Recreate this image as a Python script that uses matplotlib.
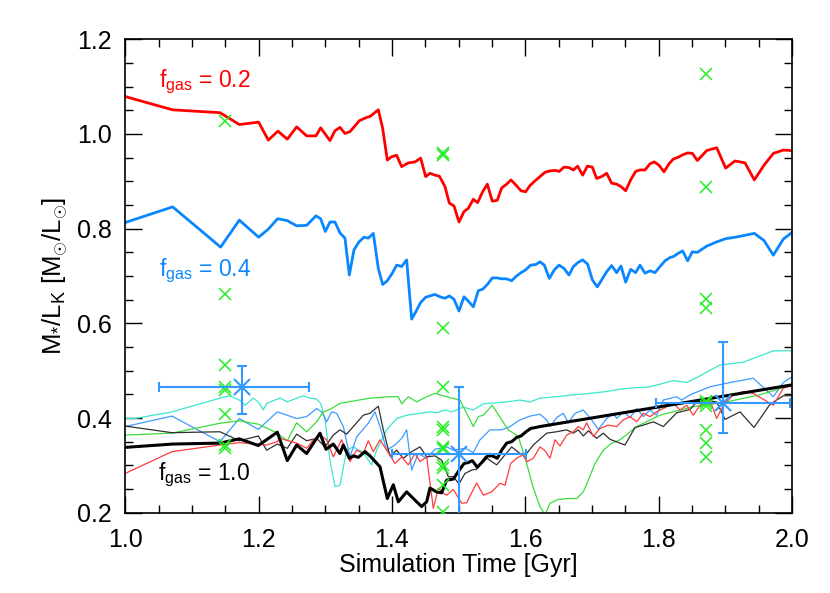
import matplotlib
matplotlib.use("Agg")
import matplotlib.pyplot as plt
from matplotlib.ticker import MultipleLocator, FormatStrFormatter

plt.rcParams['font.family'] = ['Liberation Sans', 'DejaVu Sans']
plt.rcParams['mathtext.fontset'] = 'custom'
plt.rcParams['mathtext.rm'] = 'Liberation Sans'
plt.rcParams['mathtext.it'] = 'Liberation Sans:italic'
plt.rcParams['mathtext.bf'] = 'Liberation Sans:bold'

# ---------------- data ----------------
red_t = [1.000, 1.071, 1.142, 1.171, 1.200, 1.2145, 1.229, 1.243, 1.257, 1.272,
         1.286, 1.293, 1.307, 1.3145, 1.322, 1.3295, 1.337, 1.351, 1.362, 1.367,
         1.3795, 1.386, 1.393, 1.3995, 1.407, 1.4145, 1.4245, 1.4345, 1.443, 1.4505,
         1.457, 1.4645, 1.471, 1.4795, 1.486, 1.493, 1.5005, 1.508, 1.5145, 1.522,
         1.5285, 1.536, 1.543, 1.5505, 1.558, 1.5645, 1.572, 1.5785, 1.586, 1.5935,
         1.6005, 1.607, 1.6145, 1.622, 1.6295, 1.637, 1.6445, 1.651, 1.658, 1.6655,
         1.672, 1.6785, 1.686, 1.693, 1.7005, 1.707, 1.7145, 1.722, 1.7295, 1.737,
         1.7435, 1.7505, 1.758, 1.7655, 1.772, 1.7795, 1.787, 1.7935, 1.8005, 1.808,
         1.8155, 1.822, 1.8295, 1.836, 1.8435, 1.8505, 1.858, 1.8655, 1.872, 1.8795,
         1.887, 1.9005, 1.9145, 1.9295, 1.9435, 1.958, 1.972, 1.987, 2.000]
red_v = [1.079, 1.051, 1.045, 1.020, 1.025, 0.987, 1.006, 0.989, 1.015, 0.996,
         0.996, 1.013, 0.986, 1.007, 1.014, 1.001, 1.005, 1.028, 1.035, 1.037,
         1.051, 1.012, 0.945, 0.952, 0.955, 0.931, 0.939, 0.941, 0.949, 0.910,
         0.917, 0.913, 0.911, 0.889, 0.854, 0.848, 0.814, 0.836, 0.843, 0.862,
         0.855, 0.878, 0.894, 0.858, 0.860, 0.886, 0.894, 0.903, 0.892, 0.880,
         0.878, 0.891, 0.901, 0.910, 0.919, 0.922, 0.923, 0.921, 0.930, 0.929,
         0.924, 0.932, 0.913, 0.932, 0.930, 0.906, 0.910, 0.917, 0.896, 0.894,
         0.889, 0.880, 0.903, 0.921, 0.924, 0.924, 0.937, 0.941, 0.934, 0.920,
         0.937, 0.947, 0.951, 0.956, 0.960, 0.959, 0.944, 0.955, 0.965, 0.968,
         0.971, 0.928, 0.943, 0.939, 0.903, 0.934, 0.959, 0.966, 0.965]

blue_t = [1.000, 1.071, 1.143, 1.171, 1.200, 1.2145, 1.2285, 1.243, 1.257, 1.272,
          1.286, 1.293, 1.300, 1.307, 1.3145, 1.322, 1.3295, 1.336, 1.343, 1.3505,
          1.358, 1.3645, 1.372, 1.3795, 1.386, 1.393, 1.4005, 1.407, 1.4145, 1.422,
          1.4295, 1.436, 1.443, 1.4505, 1.457, 1.4645, 1.472, 1.4795, 1.486, 1.493,
          1.5005, 1.508, 1.5145, 1.522, 1.5295, 1.536, 1.543, 1.5505, 1.558, 1.5645,
          1.572, 1.5795, 1.586, 1.5935, 1.6005, 1.608, 1.6155, 1.622, 1.6285, 1.636,
          1.6435, 1.6505, 1.658, 1.6655, 1.672, 1.6795, 1.686, 1.6935, 1.7005, 1.708,
          1.7155, 1.722, 1.7295, 1.737, 1.7435, 1.7505, 1.758, 1.7655, 1.772, 1.7795,
          1.787, 1.7945, 1.802, 1.8095, 1.817, 1.822, 1.8295, 1.836, 1.8435, 1.8505,
          1.858, 1.872, 1.887, 1.901, 1.9155, 1.9295, 1.9435, 1.958, 1.972, 1.987,
          2.000]
blue_v = [0.813, 0.846, 0.761, 0.818, 0.782, 0.799, 0.821, 0.817, 0.806, 0.807,
          0.827, 0.821, 0.794, 0.814, 0.814, 0.791, 0.780, 0.702, 0.755, 0.772,
          0.782, 0.780, 0.790, 0.716, 0.682, 0.690, 0.706, 0.723, 0.720, 0.734,
          0.609, 0.625, 0.644, 0.655, 0.658, 0.661, 0.656, 0.653, 0.658, 0.651,
          0.626, 0.656, 0.647, 0.635, 0.669, 0.672, 0.682, 0.696, 0.696, 0.694,
          0.694, 0.690, 0.699, 0.707, 0.713, 0.723, 0.724, 0.730, 0.723, 0.695,
          0.713, 0.723, 0.716, 0.702, 0.720, 0.729, 0.734, 0.725, 0.692, 0.677,
          0.694, 0.709, 0.722, 0.707, 0.721, 0.687, 0.714, 0.707, 0.723, 0.706,
          0.711, 0.707, 0.720, 0.732, 0.739, 0.741, 0.748, 0.753, 0.732, 0.751,
          0.750, 0.763, 0.772, 0.779, 0.782, 0.786, 0.790, 0.775, 0.744, 0.778,
          0.792]

black_t = [1.000, 1.071, 1.142, 1.171, 1.1995, 1.228, 1.243, 1.257, 1.272, 1.292,
           1.301, 1.312, 1.322, 1.327, 1.336, 1.342, 1.3495, 1.3595, 1.367, 1.382,
           1.393, 1.402, 1.4095, 1.422, 1.437, 1.4445, 1.452, 1.457, 1.467, 1.4745,
           1.482, 1.492, 1.4995, 1.508, 1.5145, 1.5205, 1.528, 1.536, 1.5435, 1.5505,
           1.558, 1.5645, 1.572, 1.5795, 1.587, 1.5935, 1.601, 1.608, 1.6155, 1.622,
           2.000]
black_v = [0.338, 0.345, 0.347, 0.356, 0.342, 0.370, 0.310, 0.343, 0.325, 0.368,
           0.334, 0.345, 0.325, 0.343, 0.315, 0.320, 0.317, 0.329, 0.320, 0.297,
           0.230, 0.259, 0.223, 0.244, 0.223, 0.213, 0.223, 0.252, 0.244, 0.242,
           0.269, 0.271, 0.287, 0.304, 0.306, 0.310, 0.296, 0.308, 0.320, 0.320,
           0.315, 0.332, 0.347, 0.350, 0.359, 0.362, 0.371, 0.378, 0.380, 0.382,
           0.470]

cyan_t = [1.000, 1.0145, 1.070, 1.142, 1.157, 1.171, 1.1795, 1.192, 1.1995, 1.207,
          1.212, 1.232, 1.243, 1.257, 1.267, 1.277, 1.287, 1.293, 1.2995, 1.307,
          1.3145, 1.322, 1.332, 1.342, 1.357, 1.3695, 1.377, 1.392, 1.407, 1.422,
          1.442, 1.457, 1.467, 1.4795, 1.4895, 1.507, 1.522, 1.537, 1.572, 1.592,
          1.607, 1.622, 1.647, 1.672, 1.697, 1.722, 1.742, 1.757, 1.787, 1.822,
          1.842, 1.862, 1.892, 1.927, 1.972, 2.000]
cyan_v = [0.399, 0.399, 0.413, 0.442, 0.447, 0.438, 0.427, 0.442, 0.434, 0.417,
          0.431, 0.442, 0.434, 0.442, 0.447, 0.442, 0.440, 0.431, 0.399, 0.311,
          0.255, 0.258, 0.332, 0.339, 0.327, 0.301, 0.332, 0.375, 0.399, 0.406,
          0.410, 0.413, 0.411, 0.417, 0.413, 0.423, 0.417, 0.430, 0.434, 0.438,
          0.434, 0.442, 0.445, 0.449, 0.452, 0.456, 0.461, 0.463, 0.466, 0.479,
          0.475, 0.489, 0.512, 0.518, 0.542, 0.542]

lblue_t = [1.000, 1.070, 1.142, 1.171, 1.1995, 1.228, 1.257, 1.272, 1.287, 1.2945,
           1.302, 1.3095, 1.317, 1.327, 1.337, 1.347, 1.3645, 1.3745, 1.382, 1.392,
           1.4045, 1.4145, 1.422, 1.4295, 1.4395, 1.452, 1.4645, 1.482, 1.492, 1.5095,
           1.522, 1.532, 1.547, 1.5645, 1.577, 1.592, 1.607, 1.622, 1.632, 1.637,
           1.647, 1.657, 1.6645, 1.6745, 1.687, 1.6995, 1.7095, 1.722, 1.732, 1.737,
           1.747, 1.757, 1.767, 1.777, 1.787, 1.797, 1.807, 1.827, 1.8345, 1.847,
           1.877, 1.907, 1.942, 1.972, 1.987, 2.000]
lblue_v = [0.382, 0.404, 0.350, 0.399, 0.376, 0.413, 0.399, 0.403, 0.420, 0.413,
           0.392, 0.413, 0.410, 0.382, 0.318, 0.360, 0.389, 0.413, 0.382, 0.332,
           0.343, 0.357, 0.375, 0.290, 0.325, 0.315, 0.334, 0.339, 0.332, 0.336,
           0.327, 0.354, 0.375, 0.375, 0.382, 0.396, 0.404, 0.408, 0.396, 0.382,
           0.401, 0.410, 0.390, 0.410, 0.417, 0.396, 0.376, 0.399, 0.410, 0.399,
           0.413, 0.401, 0.420, 0.403, 0.417, 0.406, 0.438, 0.445, 0.438, 0.449,
           0.466, 0.475, 0.484, 0.445, 0.475, 0.487]

green_t = [1.000, 1.070, 1.142, 1.171, 1.1995, 1.228, 1.243, 1.257, 1.272, 1.287,
           1.297, 1.307, 1.322, 1.367, 1.397, 1.4095, 1.4145, 1.4245, 1.437, 1.452,
           1.4645, 1.4895, 1.502, 1.5145, 1.522, 1.5295, 1.537, 1.5505, 1.5645, 1.5745,
           1.5895, 1.602, 1.612, 1.622, 1.6295, 1.637, 1.6495, 1.6645, 1.677, 1.687,
           1.6945, 1.7045, 1.717, 1.7295, 1.742, 1.767, 1.802, 1.852, 1.902, 1.952,
           2.000]
green_v = [0.364, 0.368, 0.389, 0.394, 0.387, 0.368, 0.352, 0.390, 0.371, 0.392,
           0.413, 0.418, 0.431, 0.442, 0.445, 0.445, 0.430, 0.445, 0.434, 0.445,
           0.452, 0.442, 0.438, 0.403, 0.382, 0.403, 0.406, 0.427, 0.396, 0.375,
           0.361, 0.304, 0.252, 0.213, 0.196, 0.220, 0.228, 0.230, 0.230, 0.244,
           0.269, 0.304, 0.332, 0.347, 0.354, 0.382, 0.406, 0.424, 0.434, 0.449,
           0.470]

gray_t = [1.000, 1.070, 1.142, 1.171, 1.1995, 1.212, 1.228, 1.243, 1.257, 1.272,
          1.287, 1.2995, 1.312, 1.322, 1.332, 1.342, 1.357, 1.367, 1.3795, 1.387,
          1.397, 1.407, 1.417, 1.4295, 1.442, 1.452, 1.4645, 1.4745, 1.4845, 1.492,
          1.5005, 1.5095, 1.5195, 1.527, 1.5395, 1.5495, 1.557, 1.567, 1.5795, 1.592,
          1.602, 1.612, 1.632, 1.647, 1.662, 1.672, 1.6795, 1.687, 1.6945, 1.707,
          1.717, 1.727, 1.7495, 1.7645, 1.777, 1.792, 1.807, 1.827, 1.847, 1.857,
          1.872, 1.887, 1.8995, 1.922, 1.943, 1.967, 1.987, 2.000]
gray_v = [0.383, 0.369, 0.371, 0.352, 0.362, 0.332, 0.345, 0.336, 0.366, 0.352,
          0.357, 0.339, 0.364, 0.375, 0.366, 0.382, 0.406, 0.410, 0.425, 0.375,
          0.320, 0.332, 0.315, 0.329, 0.339, 0.318, 0.320, 0.311, 0.276, 0.276,
          0.261, 0.283, 0.290, 0.292, 0.318, 0.308, 0.301, 0.318, 0.339, 0.325,
          0.325, 0.343, 0.368, 0.371, 0.375, 0.368, 0.375, 0.362, 0.373, 0.357,
          0.368, 0.355, 0.343, 0.380, 0.385, 0.392, 0.382, 0.411, 0.418, 0.434,
          0.437, 0.434, 0.397, 0.413, 0.380, 0.429, 0.447, 0.447]

lred_t = [1.000, 1.070, 1.142, 1.171, 1.212, 1.228, 1.232, 1.257, 1.272, 1.282,
          1.292, 1.302, 1.312, 1.3245, 1.337, 1.347, 1.357, 1.3645, 1.372, 1.382,
          1.392, 1.4045, 1.4145, 1.4245, 1.4345, 1.442, 1.452, 1.462, 1.4695, 1.477,
          1.482, 1.492, 1.5045, 1.512, 1.527, 1.537, 1.5495, 1.562, 1.5695, 1.578,
          1.587, 1.596, 1.603, 1.612, 1.622, 1.6295, 1.637, 1.6445, 1.652, 1.662,
          1.672, 1.6795, 1.687, 1.692, 1.702, 1.712, 1.7245, 1.737, 1.747, 1.757,
          1.767, 1.777, 1.787, 1.797, 1.822, 1.832, 1.842, 1.852, 1.862, 1.877,
          1.887, 1.897, 1.912, 1.927, 1.942, 1.972, 1.987, 2.000]
lred_v = [0.283, 0.329, 0.343, 0.348, 0.343, 0.350, 0.357, 0.347, 0.336, 0.354,
          0.364, 0.354, 0.318, 0.354, 0.308, 0.332, 0.325, 0.352, 0.329, 0.354,
          0.332, 0.304, 0.318, 0.301, 0.325, 0.308, 0.318, 0.209, 0.252, 0.241,
          0.237, 0.249, 0.220, 0.221, 0.263, 0.237, 0.244, 0.262, 0.258, 0.304,
          0.315, 0.322, 0.308, 0.315, 0.339, 0.331, 0.315, 0.354, 0.341, 0.364,
          0.371, 0.382, 0.375, 0.390, 0.361, 0.378, 0.385, 0.382, 0.396, 0.403,
          0.392, 0.410, 0.403, 0.413, 0.431, 0.417, 0.427, 0.406, 0.427, 0.438,
          0.399, 0.427, 0.449, 0.456, 0.452, 0.427, 0.463, 0.468]

# observed points (green crosses), grouped by time
obs_t = [1.15, 1.476, 1.8705]
obs_a = [1.027, 0.661, 0.512, 0.466, 0.459, 0.409, 0.343, 0.336]
obs_b = [0.959, 0.956, 0.591, 0.466, 0.380, 0.375, 0.339, 0.334, 0.301, 0.294, 0.258, 0.202]
obs_c = [1.127, 0.889, 0.651, 0.632, 0.437, 0.431, 0.425, 0.375, 0.348, 0.318]

# binned means with errors
err_t = [1.1745, 1.5005, 1.896]
err_v = [0.465, 0.324, 0.431]
err_t_lo = [0.124, 0.101, 0.100]
err_t_hi = [0.1015, 0.100, 0.101]
err_v_lo = [0.056, 0.150, 0.063]
err_v_hi = [0.045, 0.141, 0.130]

labels = [r'f$_{\rm gas}$ = 0.2', r'f$_{\rm gas}$ = 0.4', r'f$_{\rm gas}$ = 1.0']
label_pos = [(1.05, 1.099), (1.05, 0.699), (1.049, 0.269)]
label_col = ['#FF0000', '#0A87FF', '#000000']

# ---------------- figure ----------------
fig = plt.figure(figsize=(8.3, 5.93), dpi=100)
ax = fig.add_axes([125.3 / 830, 1 - 512.7 / 593, (792 - 125.3) / 830, (512.7 - 39.3) / 593])

thin = 0.9
ax.plot(cyan_t, cyan_v, color='#3CE6CC', lw=thin)
ax.plot(lblue_t, lblue_v, color='#3C9BFF', lw=thin)
ax.plot(green_t, green_v, color='#3CDC3C', lw=thin)
ax.plot(gray_t, gray_v, color='#303030', lw=thin)
ax.plot(lred_t, lred_v, color='#FF3C3C', lw=thin)

ax.plot(red_t, red_v, color='#FF0000', lw=2.0)
ax.plot(blue_t, blue_v, color='#0A87FF', lw=2.0)
ax.plot(black_t, black_v, color='#000000', lw=2.2)

for t, vals in zip(obs_t, [obs_a, obs_b, obs_c]):
    ax.plot([t] * len(vals), vals, linestyle='none', marker='x', ms=9,
            mew=1.1, color='#22EE22', zorder=4)

ax.errorbar(err_t, err_v, xerr=[err_t_lo, err_t_hi], yerr=[err_v_lo, err_v_hi],
            fmt='x', ms=12, mew=1.5, color='#3399FF', ecolor='#3399FF',
            elinewidth=1.5, capsize=3.5, capthick=1.5, zorder=5)

for txt, (tx, ty), c in zip(labels, label_pos, label_col):
    ax.text(tx, ty, txt, color=c, fontsize=16.5, ha='left', va='baseline')

ax.set_xlim(1.0, 2.0)
ax.set_ylim(0.2, 1.2)
ax.xaxis.set_major_locator(MultipleLocator(0.2))
ax.xaxis.set_minor_locator(MultipleLocator(0.05))
ax.yaxis.set_major_locator(MultipleLocator(0.2))
ax.yaxis.set_minor_locator(MultipleLocator(0.05))
ax.xaxis.set_major_formatter(FormatStrFormatter('%.1f'))
ax.yaxis.set_major_formatter(FormatStrFormatter('%.1f'))
ax.tick_params(which='both', direction='in', top=True, right=True, width=1.0,
               labelsize=18)
ax.tick_params(which='major', length=12)
ax.tick_params(which='minor', length=6)
ax.tick_params(axis='x', which='major', pad=11)
ax.tick_params(axis='y', which='major', pad=10)
for s in ax.spines.values():
    s.set_linewidth(1.2)

ax.set_xlabel('Simulation Time [Gyr]', fontsize=18, labelpad=1)
ax.set_ylabel(r'M$_{*}$/L$_{\rm K}$ [M$_{\odot}$/L$_{\odot}$]', fontsize=18.5, labelpad=5)

fig.savefig('out.png', dpi=100)
